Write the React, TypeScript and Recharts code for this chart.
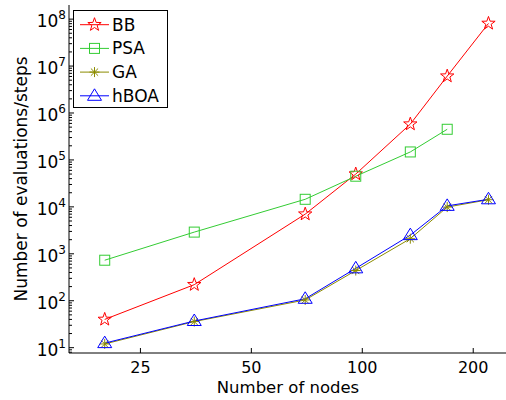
import { Legend, Line, LineChart, XAxis, YAxis } from "recharts"

const nodes = [20, 35, 70, 96, 135, 170, 220]
const bb = [40, 220, 7000, 50000, 580000, 6100000, 81000000]
const psa = [730, 2900, 14500, 45000, 148000, 450000, null]
const ga = [12, 36, 104, 440, 2100, 9900, 14200]
const hboa = [12.5, 37, 110, 490, 2500, 10500, 14500]

const xTicks = [25, 50, 100, 200]
const yMajor = [10, 100, 1000, 10000, 100000, 1000000, 10000000, 100000000]

const xDomain = [16, 247]
const yDomain = [7.7, 200000000]

// minor log ticks (2..9 of each decade) inside the y domain
const yMinor: number[] = []
;[1, ...yMajor].forEach((d) => {
  for (let k = 2; k <= 9; k++) {
    const v = d * k
    if (v >= yDomain[0] && v < yDomain[1]) yMinor.push(v)
  }
})
const yTicks = [...yMajor, ...yMinor].sort((a, b) => a - b)

const data = nodes.map((n, i) => ({ n, BB: bb[i], PSA: psa[i], GA: ga[i], hBOA: hboa[i] }))

const FONT = "'DejaVu Sans', sans-serif"
const RED = "#ff0000"
const GREEN = "#33cc33"
const OLIVE = "#8c8c00"
const BLUE = "#0000ff"

const Star = ({ cx, cy, color }: any) => {
  const pts: string[] = []
  for (let i = 0; i < 10; i++) {
    const r = i % 2 === 0 ? 7 : 2.8
    const a = -Math.PI / 2 + (i * Math.PI) / 5
    pts.push(`${cx + r * Math.cos(a)},${cy + r * Math.sin(a)}`)
  }
  return <polygon points={pts.join(" ")} fill="none" stroke={color} strokeWidth={1} />
}

const Square = ({ cx, cy, color }: any) => (
  <rect x={cx - 5} y={cy - 5} width={10} height={10} fill="none" stroke={color} strokeWidth={1} />
)

const Asterisk = ({ cx, cy, color }: any) => (
  <g stroke={color} strokeWidth={1}>
    <line x1={cx - 5} y1={cy} x2={cx + 5} y2={cy} />
    <line x1={cx} y1={cy - 5} x2={cx} y2={cy + 5} />
    <line x1={cx - 3.6} y1={cy - 3.6} x2={cx + 3.6} y2={cy + 3.6} />
    <line x1={cx - 3.6} y1={cy + 3.6} x2={cx + 3.6} y2={cy - 3.6} />
  </g>
)

const Triangle = ({ cx, cy, color }: any) => (
  <polygon
    points={`${cx},${cy - 7} ${cx + 7},${cy + 4.5} ${cx - 7},${cy + 4.5}`}
    fill="none"
    stroke={color}
    strokeWidth={1}
  />
)

const series = [
  { key: "BB", color: RED, Marker: Star },
  { key: "PSA", color: GREEN, Marker: Square },
  { key: "GA", color: OLIVE, Marker: Asterisk },
  { key: "hBOA", color: BLUE, Marker: Triangle },
]

const BottomTick = ({ x, y, payload }: any) => (
  <g>
    <line x1={x} x2={x} y1={y} y2={y - 5} stroke="#000" />
    <text x={x} y={y + 20} textAnchor="middle" fontSize={16} fontFamily={FONT} fill="#000">
      {payload.value}
    </text>
  </g>
)

const TopTick = ({ x, y }: any) => <line x1={x} x2={x} y1={y} y2={y + 5} stroke="#000" />

const isMajor = (v: number) => yMajor.includes(v)

const LeftTick = ({ x, y, payload }: any) => {
  const major = isMajor(payload.value)
  return (
    <g>
      <line x1={x} x2={x + (major ? 5 : 3)} y1={y} y2={y} stroke="#000" />
      {major && (
        <text x={x - 3} y={y + 8} textAnchor="end" fontFamily={FONT} fill="#000" fontSize={17}>
          10
          <tspan dy={-8} fontSize={12}>
            {Math.round(Math.log10(payload.value))}
          </tspan>
        </text>
      )}
    </g>
  )
}

const RightTick = ({ x, y, payload }: any) => {
  const major = isMajor(payload.value)
  return <line x1={x} x2={x - (major ? 5 : 3)} y1={y} y2={y} stroke="#000" />
}

const LegendBox = () => (
  <div style={{ border: "1px solid #000", background: "#fff", width: 93, height: 96 }}>
    <svg width={93} height={96}>
      {series.map((s, i) => {
        const cy = 13.7 + i * 23.7
        return (
          <g key={s.key}>
            <line x1={6} x2={35} y1={cy} y2={cy} stroke={s.color} strokeWidth={1} />
            <s.Marker cx={20.5} cy={cy} color={s.color} />
            <text x={38} y={cy + 6} fontSize={17} fontFamily={FONT} fill="#000">
              {s.key}
            </text>
          </g>
        )
      })}
    </svg>
  </div>
)

const XTitle = ({ viewBox }: any) => (
  <text x={viewBox.x + viewBox.width / 2} y={393} textAnchor="middle" fontSize={16.5} fontFamily={FONT} fill="#000">
    Number of nodes
  </text>
)

const YTitle = ({ viewBox }: any) => {
  const cy = viewBox.y + viewBox.height / 2
  return (
    <text
      x={27}
      y={cy}
      transform={`rotate(-90 27 ${cy})`}
      textAnchor="middle"
      fontSize={17}
      fontFamily={FONT}
      fill="#000"
    >
      Number of evaluations/steps
    </text>
  )
}

export default function App() {
  return (
    <div style={{ position: "absolute", left: 0, top: 0, width: 506, height: 400, overflow: "hidden", background: "#fff" }}>
      <LineChart width={508} height={400} data={data} margin={{ top: 5, right: 1, bottom: 0, left: 0 }}>
        <XAxis
          dataKey="n"
          type="number"
          scale="log"
          domain={xDomain}
          allowDataOverflow
          ticks={xTicks}
          interval={0}
          tickSize={0}
          tickMargin={0}
          tickLine={false}
          tick={<BottomTick />}
          height={47}
          axisLine={{ stroke: "#000" }}
          label={<XTitle />}
        />
        <XAxis
          xAxisId="top"
          orientation="top"
          dataKey="n"
          type="number"
          scale="log"
          domain={xDomain}
          allowDataOverflow
          ticks={xTicks}
          interval={0}
          tickSize={0}
          tickMargin={0}
          tickLine={false}
          tick={<TopTick />}
          height={0}
          axisLine={{ stroke: "#000" }}
        />
        <YAxis
          type="number"
          scale="log"
          domain={yDomain}
          allowDataOverflow
          ticks={yTicks}
          interval={0}
          tickSize={0}
          tickMargin={0}
          tickLine={false}
          tick={<LeftTick />}
          width={69}
          axisLine={{ stroke: "#000" }}
          label={<YTitle />}
        />
        <YAxis
          yAxisId="right"
          orientation="right"
          type="number"
          scale="log"
          domain={yDomain}
          allowDataOverflow
          ticks={yTicks}
          interval={0}
          tickSize={0}
          tickMargin={0}
          tickLine={false}
          tick={<RightTick />}
          width={0}
          axisLine={{ stroke: "#000" }}
        />
        {series.map((s) => (
          <Line
            key={s.key}
            dataKey={s.key}
            stroke={s.color}
            strokeWidth={1}
            isAnimationActive={false}
            dot={(p: any) =>
              p.cy == null ? <g key={p.index} /> : <s.Marker key={p.index} cx={p.cx} cy={p.cy} color={s.color} />
            }
          />
        ))}
        <Legend
          layout="vertical"
          align="center"
          verticalAlign="middle"
          wrapperStyle={{ left: 73, top: 10, width: "auto" }}
          content={<LegendBox />}
        />
      </LineChart>
    </div>
  )
}
